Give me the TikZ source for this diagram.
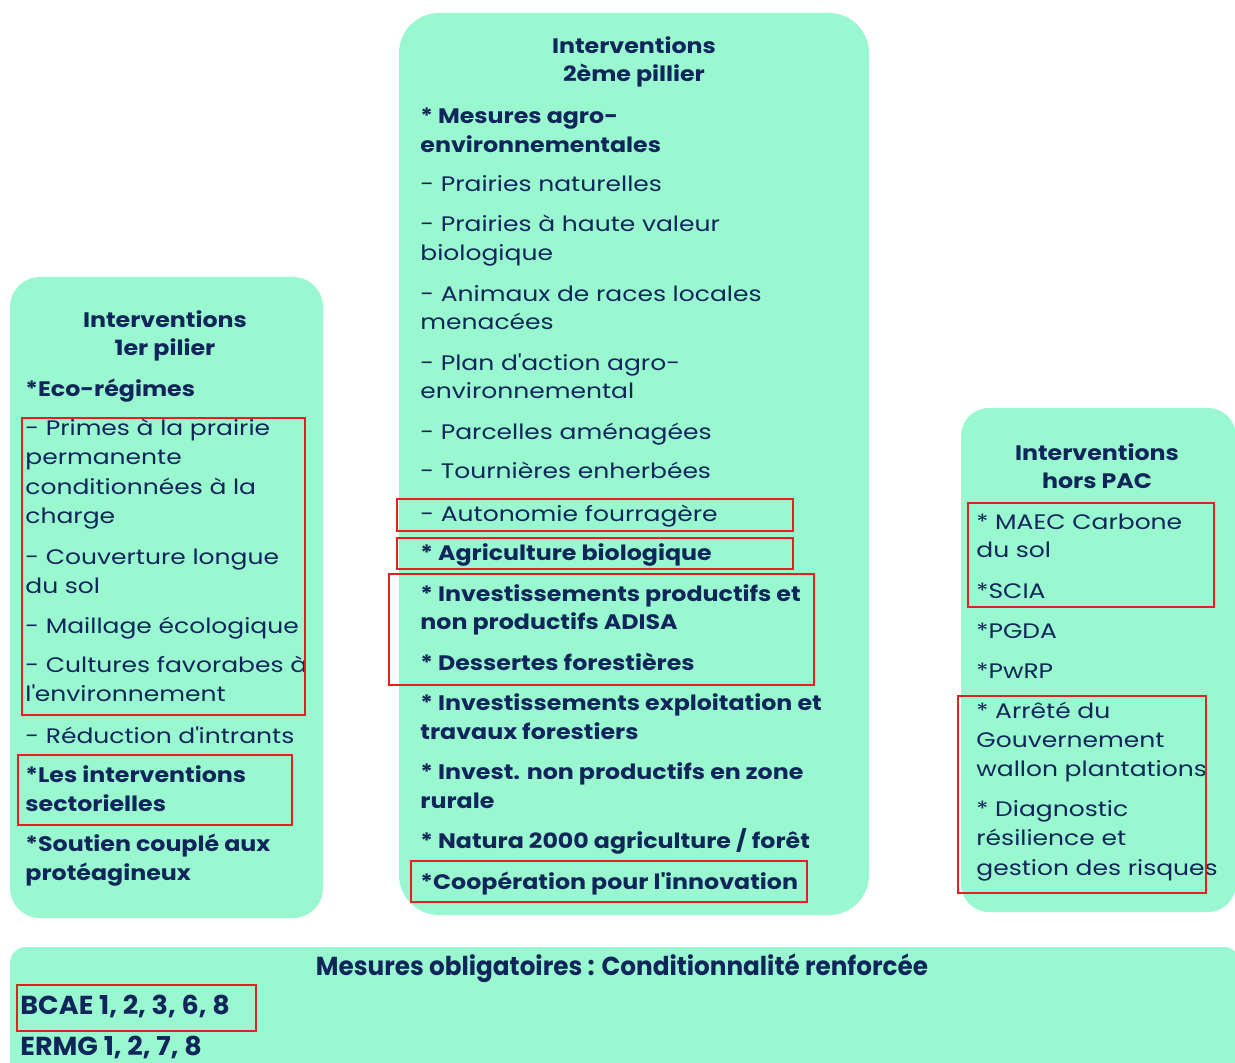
\documentclass[tikz,border=0pt]{standalone}
\usepackage{fontspec}
\setmainfont{Poppins}
\newfontfamily\regfont[FakeStretch=1.19]{Poppins}
\newfontfamily\bldfont[FakeStretch=1.13]{Poppins}
\newfontfamily\condfont[FakeStretch=0.95]{Poppins}
\newfontfamily\condfontb[FakeStretch=1.04]{Poppins}
\newcommand\ap{\textquotesingle}
\definecolor{mint}{RGB}{153,248,208}
\definecolor{navy}{RGB}{16,38,90}
\definecolor{boxred}{RGB}{228,32,32}
\begin{document}
\begin{tikzpicture}[x=0.5pt,y=-0.5pt,
  panel/.style={fill=mint, draw=none},
  reg/.style={anchor=base west, inner sep=0pt, text=navy, font=\regfont\fontsize{10.5}{12}\selectfont},
  bld/.style={anchor=base west, inner sep=0pt, text=navy, font=\bldfont\fontsize{10.5}{12}\selectfont\bfseries},
  head/.style={anchor=base, inner sep=0pt, text=navy, font=\bldfont\fontsize{10.5}{12}\selectfont\bfseries},
  cond/.style={inner sep=0pt, text=navy, font=\condfont\fontsize{13}{15}\selectfont\bfseries},
  condb/.style={inner sep=0pt, text=navy, font=\condfontb\fontsize{13}{15}\selectfont\bfseries},
  hl/.style={draw=boxred, line width=0.9pt}]
\useasboundingbox (0,0) rectangle (1235,1063);
\clip (0,0) rectangle (1235,1063);
% panels
\draw[panel, rounded corners=15pt] (10,277) rectangle (323,918);
\draw[panel, rounded corners=20pt] (399,13) rectangle (869,915);
\draw[panel, rounded corners=14pt] (961,408) rectangle (1236,912);
\draw[panel, rounded corners=8pt] (10,947) rectangle (1240,1100);
% left panel
\node[head] (lh1) at (165,328) {Interventions};
\node[head] (lh2) at (165,356) {1er pilier};
\foreach [count=\k] \yy/\tt in {397/{*Eco-régimes},782/{*Les interventions},811/{sectorielles},851/{*Soutien couplé aux},880/{protéagineux}}
  \node[bld] (lb\k) at (25,\yy) {\tt};
\foreach [count=\k] \yy/\tt in {436/{- Primes à la prairie},465/{permanente},494/{conditionnées à la},523/{charge},564/{- Couverture longue},593/{du sol},633/{- Maillage écologique},672/{- Cultures favorabes à},701/{l\ap environnement},743/{- Réduction d\ap intrants}}
  \node[reg] (lr\k) at (25,\yy) {\tt};
% middle panel
\node[head] (mh1) at (634,54) {Interventions};
\node[head] (mh2) at (634,82) {2ème pillier};
\foreach [count=\k] \yy/\tt in {124/{* Mesures agro-},153/{environnementales},560/{* Agriculture biologique},601/{* Investissements productifs et},629/{non productifs ADISA},670/{* Dessertes forestières},710/{* Investissements exploitation et},739/{travaux forestiers},779/{* Invest. non productifs en zone},808/{rurale},848/{* Natura 2000 agriculture / forêt},889/{*Coopération pour l\ap innovation}}
  \node[bld] (mb\k) at (420,\yy) {\tt};
\foreach [count=\k] \yy/\tt in {192/{- Prairies naturelles},232/{- Prairies à haute valeur},261/{biologique},302/{- Animaux de races locales},330/{menacées},371/{- Plan d\ap action agro-},399/{environnemental},440/{- Parcelles aménagées},479/{- Tournières enherbées},521/{- Autonomie fourragère}}
  \node[reg] (mr\k) at (420,\yy) {\tt};
% right panel
\node[head] (rh1) at (1097,460) {Interventions};
\node[head] (rh2) at (1097,488) {hors PAC};
\foreach [count=\k] \yy/\tt in {529/{* MAEC Carbone},557/{du sol},598/{*SCIA},638/{*PGDA},678/{*PwRP},718/{* Arrêté du},747/{Gouvernement},776/{wallon plantations},816/{* Diagnostic},845/{résilience et},875/{gestion des risques}}
  \node[reg] (rr\k) at (976,\yy) {\tt};
% bottom panel
\node[cond, anchor=base] (bh) at (622,975) {Mesures obligatoires : Conditionnalité renforcée};
\node[condb, anchor=base west] (bb1) at (20,1014) {BCAE 1, 2, 3, 6, 8};
\node[condb, anchor=base west] (bb2) at (20,1055) {ERMG 1, 2, 7, 8};
% red highlight frames
\draw[hl] (22,418) rectangle (305,715);
\draw[hl] (18,755) rectangle (292,825);
\draw[hl] (397,499) rectangle (793,531);
\draw[hl] (397,538) rectangle (793,569);
\draw[hl] (389,574) rectangle (814,685);
\draw[hl] (411,861) rectangle (807,902);
\draw[hl] (968,503) rectangle (1214,607);
\draw[hl] (958,696) rectangle (1206,893);
\draw[hl] (17,985) rectangle (256,1031);
\end{tikzpicture}
\end{document}
